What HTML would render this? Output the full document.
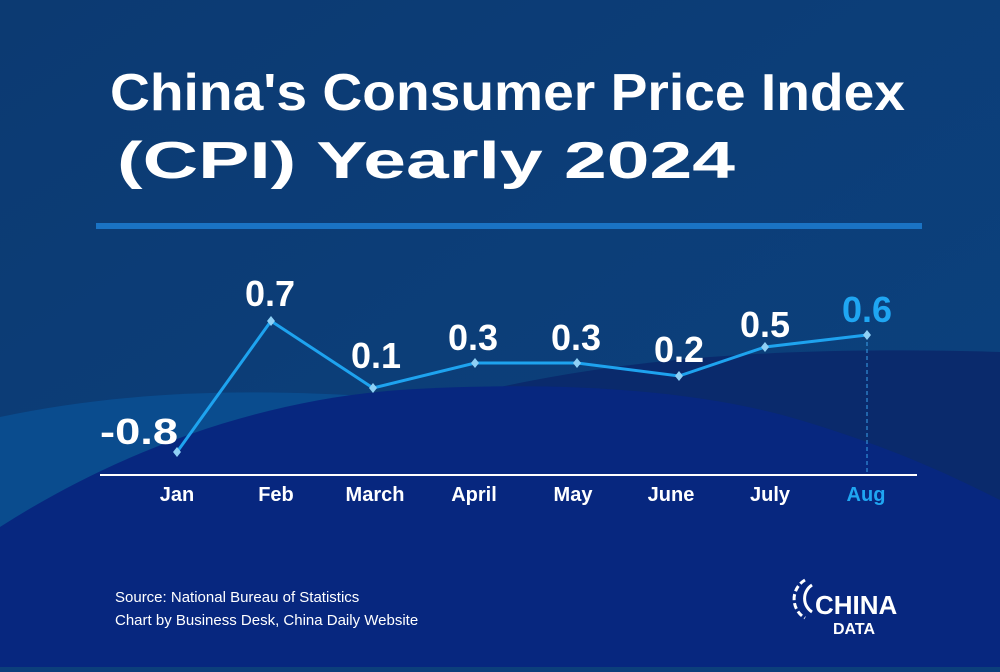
<!DOCTYPE html>
<html><head><meta charset="utf-8"><style>
html,body{margin:0;padding:0;}
body{width:1000px;height:667px;overflow:hidden;background:#0c3f7b;font-family:"Liberation Sans",sans-serif;}
</style></head><body>
<svg width="1000" height="667" viewBox="0 0 1000 667" xmlns="http://www.w3.org/2000/svg">
<defs>
<linearGradient id="bg" x1="0" y1="0" x2="1" y2="1">
<stop offset="0" stop-color="#0c3a72"/><stop offset="1" stop-color="#0b427f"/>
</linearGradient>
</defs>
<rect width="1000" height="667" fill="url(#bg)"/>
<path d="M380,420 C560,360 760,345 1000,352 L1000,667 L380,667 Z" fill="#0a2a6c"/>
<path d="M0,417 C150,385 300,390 420,400 C600,420 800,470 1000,520 L1000,667 L0,667 Z" fill="#0a4c8e"/>
<path d="M0,527 C120,450 260,400 400,390 C560,380 700,390 800,420 C900,450 960,480 1000,500 L1000,667 L0,667 Z" fill="#07277f"/>
<text x="110" y="110" textLength="795" lengthAdjust="spacingAndGlyphs" fill="#fff" font-size="52" font-weight="bold">China's Consumer Price Index</text>
<text x="117" y="178" textLength="618" lengthAdjust="spacingAndGlyphs" fill="#fff" font-size="52" font-weight="bold">(CPI) Yearly 2024</text>
<rect x="96" y="223" width="826" height="6" fill="#1a73c4"/>
<line x1="100" y1="475" x2="917" y2="475" stroke="#fff" stroke-width="2"/>
<line x1="867" y1="335" x2="867" y2="474" stroke="#3aa0ea" stroke-width="1" stroke-dasharray="4,3"/>
<polyline points="177,452 271,321 373,388 475,363 577,363 679,376 765,347 867,335" fill="none" stroke="#1ea3ef" stroke-width="3"/>
<g fill="#8fd0f5">
<path d="M177,447 l4,5 -4,5 -4,-5z"/><path d="M271,316 l4,5 -4,5 -4,-5z"/><path d="M373,383 l4,5 -4,5 -4,-5z"/><path d="M475,358 l4,5 -4,5 -4,-5z"/><path d="M577,358 l4,5 -4,5 -4,-5z"/><path d="M679,371 l4,5 -4,5 -4,-5z"/><path d="M765,342 l4,5 -4,5 -4,-5z"/><path d="M867,330 l4,5 -4,5 -4,-5z"/>
</g>
<g fill="#fff" font-size="36" font-weight="bold" text-anchor="middle">
<text x="139" y="444" textLength="78" lengthAdjust="spacingAndGlyphs">-0.8</text><text x="270" y="306">0.7</text><text x="376" y="368">0.1</text><text x="473" y="350">0.3</text><text x="576" y="350">0.3</text><text x="679" y="362">0.2</text><text x="765" y="337">0.5</text><text x="867" y="322" fill="#1fa6f2">0.6</text>
</g>
<g fill="#fff" font-size="20" font-weight="bold" text-anchor="middle">
<text x="177" y="501">Jan</text><text x="276" y="501">Feb</text><text x="375" y="501">March</text><text x="474" y="501">April</text><text x="573" y="501">May</text><text x="671" y="501">June</text><text x="770" y="501">July</text><text x="866" y="501" fill="#1fa6f2">Aug</text>
</g>
<g fill="#fff" font-size="15">
<text x="115" y="602">Source: National Bureau of Statistics</text>
<text x="115" y="625">Chart by Business Desk, China Daily Website</text>
</g>
<g fill="none" stroke="#fff" stroke-width="3">
<path d="M812,585 A16,16 0 0 0 812,612"/>
<path d="M805,580 A22,22 0 0 0 805,618" stroke-dasharray="6,3"/>
</g>
<text x="815" y="614" fill="#fff" font-size="26" font-weight="bold">CHINA</text>
<text x="833" y="634" fill="#fff" font-size="16" font-weight="bold">DATA</text>
</svg>
</body></html>
